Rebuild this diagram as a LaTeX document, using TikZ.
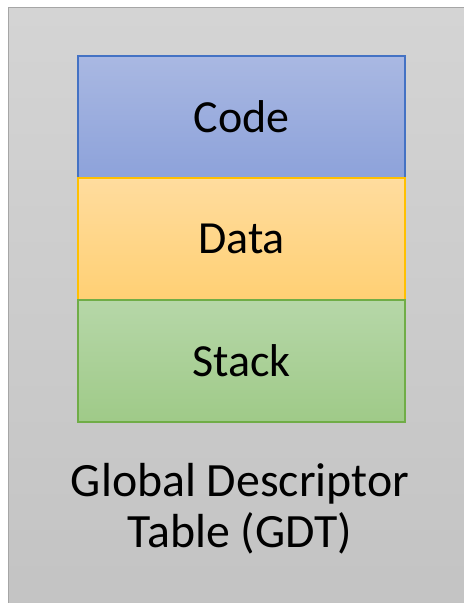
\documentclass[tikz,border=0pt]{standalone}
\usepackage{fontspec}
\setmainfont{Carlito}
\definecolor{framefill1}{HTML}{D4D4D4}
\definecolor{framefill2}{HTML}{C3C3C3}
\definecolor{frameline}{HTML}{A6A6A6}
\definecolor{codeline}{HTML}{4472C4}
\definecolor{codetop}{HTML}{A9B8E2}
\definecolor{codebot}{HTML}{8DA2DA}
\definecolor{dataline}{HTML}{FFC000}
\definecolor{datatop}{HTML}{FFDC9E}
\definecolor{databot}{HTML}{FFD074}
\definecolor{stackline}{HTML}{70AD47}
\definecolor{stacktop}{HTML}{B6D7A8}
\definecolor{stackbot}{HTML}{9FCA88}
\begin{document}
\begin{tikzpicture}[x=1bp,y=-1bp,
  bigtext/.style={font=\fontsize{46bp}{51bp}\selectfont, text=black},
  segbox/.style={bigtext, line width=1.3bp, minimum width=327bp,
    minimum height=122bp, inner sep=0pt},
]
\useasboundingbox (0,0) rectangle (464,603);
\clip (0,0) rectangle (464,603);
% grey panel holding the table
\draw[draw=frameline, line width=1.5bp, top color=framefill1, bottom color=framefill2]
  (8.5,7.5) rectangle (480,620);
% the three descriptor segments
\node[segbox, draw=codeline, top color=codetop, bottom color=codebot]
  (code) at (241.5,117) {Code};
\node[segbox, draw=dataline, top color=datatop, bottom color=databot]
  (data) at (241.5,239) {Data};
\node[segbox, draw=stackline, top color=stacktop, bottom color=stackbot]
  (stack) at (241.5,361) {Stack};
% caption, anchored on the baseline of its last line
\node[text=black, font=\fontsize{47.8bp}{51bp}\selectfont, align=center,
  anchor=base, inner sep=0pt]
  (gdt) at (240,547) {Global Descriptor\\Table (GDT)};
\end{tikzpicture}
\end{document}
